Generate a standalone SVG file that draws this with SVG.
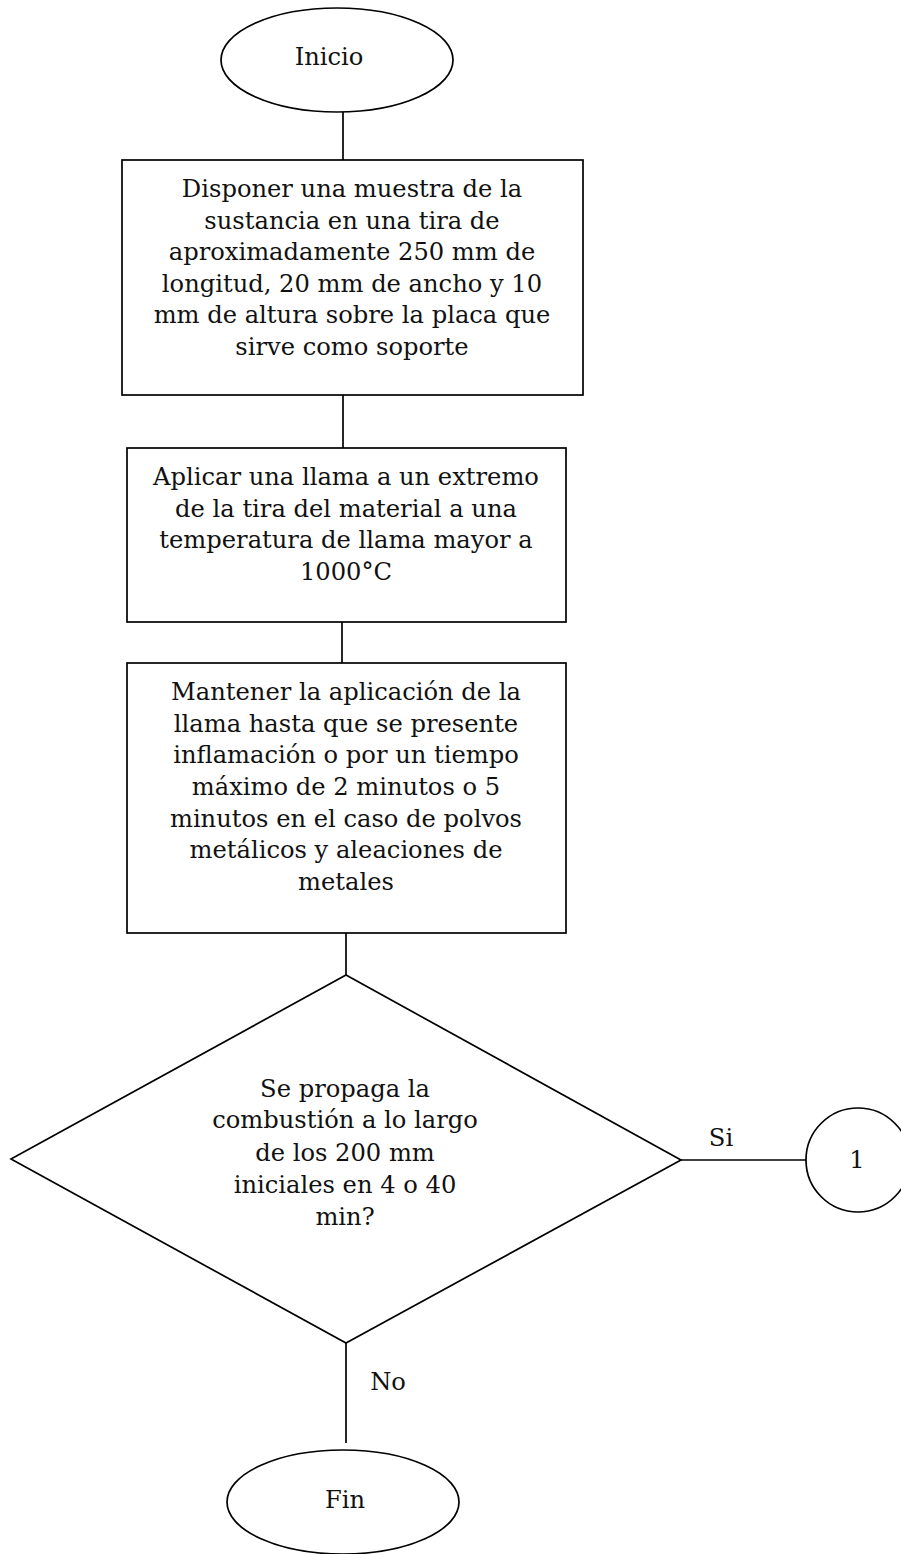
<svg xmlns="http://www.w3.org/2000/svg" width="901" height="1554" viewBox="0 0 901 1554">
<style>
.s{fill:#fff;stroke:#000;stroke-width:1.7}
.c{fill:none;stroke:#000;stroke-width:1.7}
text{font-family:"DejaVu Serif","Liberation Serif",serif;font-size:24.2px;fill:#111;text-anchor:middle}
</style>
<rect width="901" height="1554" fill="#fff"/>
<g id="connectors">
<line class="c" x1="343" y1="112" x2="343" y2="160"/>
<line class="c" x1="343" y1="395" x2="343" y2="448"/>
<line class="c" x1="342" y1="622" x2="342" y2="663"/>
<line class="c" x1="346" y1="933" x2="346" y2="975"/>
<line class="c" x1="681" y1="1160" x2="806" y2="1160"/>
<line class="c" x1="346" y1="1343" x2="346" y2="1443"/>
<text x="721" y="1146">Si</text>
<text x="388" y="1390">No</text>
</g>
<g id="inicio">
<ellipse class="s" cx="337" cy="60" rx="116" ry="52"/>
<text x="329" y="65">Inicio</text>
</g>
<g id="box1">
<rect class="s" x="122" y="160" width="461" height="235"/>
<text x="352" y="197">Disponer una muestra de la</text>
<text x="352" y="229">sustancia en una tira de</text>
<text x="352" y="260">aproximadamente 250 mm de</text>
<text x="352" y="292">longitud, 20 mm de ancho y 10</text>
<text x="352" y="323">mm de altura sobre la placa que</text>
<text x="352" y="355">sirve como soporte</text>
</g>
<g id="box2">
<rect class="s" x="127" y="448" width="439" height="174"/>
<text x="346" y="485">Aplicar una llama a un extremo</text>
<text x="346" y="517">de la tira del material a una</text>
<text x="346" y="548">temperatura de llama mayor a</text>
<text x="346" y="580">1000°C</text>
</g>
<g id="box3">
<rect class="s" x="127" y="663" width="439" height="270"/>
<text x="346" y="700">Mantener la aplicación de la</text>
<text x="346" y="732">llama hasta que se presente</text>
<text x="346" y="763">inflamación o por un tiempo</text>
<text x="346" y="795">máximo de 2 minutos o 5</text>
<text x="346" y="827">minutos en el caso de polvos</text>
<text x="346" y="858">metálicos y aleaciones de</text>
<text x="346" y="890">metales</text>
</g>
<g id="decision">
<polygon class="s" points="346,975 681,1160 346,1343 11,1159"/>
<text x="345" y="1097">Se propaga la</text>
<text x="345" y="1128">combustión a lo largo</text>
<text x="345" y="1161">de los 200 mm</text>
<text x="345" y="1193">iniciales en 4 o 40</text>
<text x="345" y="1225">min?</text>
</g>
<g id="connector1">
<circle class="s" cx="858" cy="1160" r="52"/>
<text x="857" y="1168">1</text>
</g>
<g id="fin">
<ellipse class="s" cx="343" cy="1502" rx="116" ry="52"/>
<text x="345" y="1508">Fin</text>
</g>
</svg>
